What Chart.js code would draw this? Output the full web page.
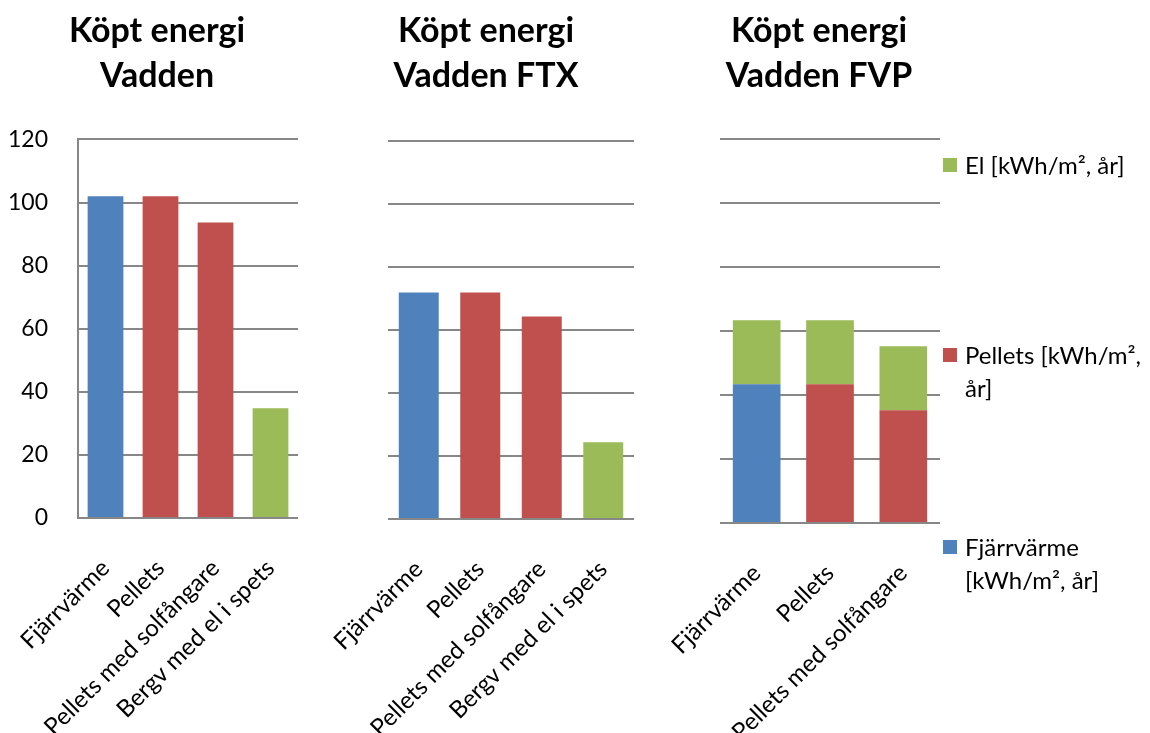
<!DOCTYPE html>
<html><head><meta charset="utf-8">
<script src="https://cdn.jsdelivr.net/npm/chart.js@4.4.1/dist/chart.umd.min.js"></script>
<style>
html,body{margin:0;padding:0;background:#fff;}
body{width:1150px;height:733px;overflow:hidden;position:relative;font-family:Lato,"Open Sans",sans-serif;}
canvas{position:absolute;top:0;}
.legItem{position:absolute;left:943px;}
.legSw{position:absolute;left:0;width:14px;height:14px;}
.legTx{position:absolute;left:22px;width:184px;font-family:Lato,sans-serif;font-size:24px;line-height:33px;color:#000;}
</style></head><body>
<canvas id="c1" width="330" height="733" style="left:0px"></canvas>
<canvas id="c2" width="360" height="733" style="left:300px"></canvas>
<canvas id="c3" width="510" height="733" style="left:640px"></canvas>
<div id="legend"></div>
<script>
// ---- data ----
const categoriesVadden = ['Fjärrvärme', 'Pellets', 'Pellets med solfångare', 'Bergv med el i spets'];
const categoriesFTX = ['Fjärrvärme', 'Pellets', 'Pellets med solfångare', 'Bergv med el i spets'];
const categoriesFVP = ['Fjärrvärme', 'Pellets', 'Pellets med solfångare'];
const seriesNames = ['Fjärrvärme [kWh/m², år]', 'Pellets [kWh/m², år]', 'El [kWh/m², år]'];
const seriesColors = ['#4F81BD', '#C0504D', '#9BBB59'];
const vaddenFjarrvarme = [102, null, null, null];
const vaddenPellets = [null, 102, 93.7, null];
const vaddenEl = [null, null, null, 34.8];
const ftxFjarrvarme = [72, null, null, null];
const ftxPellets = [null, 72, 64.4, null];
const ftxEl = [null, null, null, 24.4];
const fvpFjarrvarme = [43.4, null, null];
const fvpPellets = [null, 43.4, 35.3];
const fvpEl = [20, 20, 20];
const yTickValues = [0, 20, 40, 60, 80, 100, 120];
const titleVadden = ['Köpt energi', 'Vadden'];
const titleFTX = ['Köpt energi', 'Vadden FTX'];
const titleFVP = ['Köpt energi', 'Vadden FVP'];

const GRID = '#878787';
const FONT = 'Lato';

function makeChart(id, cats, series, title, o) {
  const datasets = series.map((d, i) => ({
    label: seriesNames[i], data: d, backgroundColor: seriesColors[i],
    borderWidth: 0, barPercentage: 0.65, categoryPercentage: 1
  }));
  const scales = {
    x: {
      stacked: true,
      grid: { display: false, drawTicks: false },
      border: { display: false },
      ticks: { autoSkip: false, minRotation: 45, maxRotation: 45, color: '#000',
               font: { family: FONT, size: 24 }, padding: o.xPad },
      afterFit: s => { s.height = o.xHeight; s.paddingLeft = 0; s.paddingRight = 0; }
    },
    y: {
      stacked: true, min: 0, max: 120,
      afterBuildTicks: s => { s.ticks = yTickValues.map(v => ({ value: v })); },
      grid: { color: GRID, lineWidth: 2, drawTicks: false },
      border: { display: o.showAxis, color: GRID, width: 2 },
      ticks: { display: o.showAxis, color: '#000', font: { family: FONT, size: 23 }, padding: 30 },
      afterFit: s => { s.width = o.yWidth; s.paddingTop = 0; s.paddingBottom = 0; }
    }
  };
  if (o.spacerRight) {
    // empty right-hand spacer so the title centres like the original
    scales.spacer = {
      type: 'linear', position: 'right', display: true,
      grid: { display: false, drawTicks: false }, border: { display: false },
      ticks: { display: false },
      afterFit: s => { s.width = o.spacerRight; s.paddingTop = 0; s.paddingBottom = 0; }
    };
  }
  return new Chart(document.getElementById(id), {
    type: 'bar',
    data: { labels: cats, datasets },
    options: {
      responsive: false, animation: false,
      layout: { padding: { left: o.padL, right: o.padR, top: 0, bottom: 0 } },
      plugins: {
        legend: { display: false }, tooltip: { enabled: false },
        title: {
          display: true, text: title, color: '#000',
          font: { family: FONT, size: 34, weight: 'bold', lineHeight: 1.33 },
          padding: { top: 8, bottom: o.titleBottom }
        }
      },
      scales
    }
  });
}

makeChart('c1', categoriesVadden, [vaddenFjarrvarme, vaddenPellets, vaddenEl], titleVadden,
  { padL: 0, padR: 16, yWidth: 78, spacerRight: 16, xHeight: 215, titleBottom: 41, xPad: 36, showAxis: true });
makeChart('c2', categoriesFTX, [ftxFjarrvarme, ftxPellets, ftxEl], titleFTX,
  { padL: 38, padR: 26, yWidth: 50, xHeight: 214, titleBottom: 43, xPad: 36, showAxis: false });
makeChart('c3', categoriesFVP, [fvpFjarrvarme, fvpPellets, fvpEl], titleFVP,
  { padL: 58, padR: 210, yWidth: 22, xHeight: 210, titleBottom: 41, xPad: 36, showAxis: false });

// legend (reverse order, as in the original)
const legendTops = [540, 348, 158];
const leg = document.getElementById('legend');
seriesNames.forEach((name, i) => {
  const item = document.createElement('div');
  item.className = 'legItem';
  item.style.top = legendTops[i] + 'px';
  const sw = document.createElement('div');
  sw.className = 'legSw'; sw.style.background = seriesColors[i]; sw.style.top = '0px';
  const tx = document.createElement('div');
  tx.className = 'legTx'; tx.style.top = '-10px'; tx.textContent = name;
  item.appendChild(sw); item.appendChild(tx);
  leg.appendChild(item);
});
</script>
</body></html>
